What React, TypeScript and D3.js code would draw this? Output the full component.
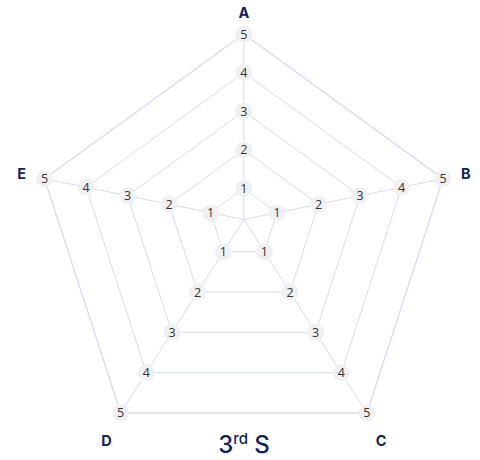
import React, { useRef, useEffect } from "react";
import * as d3 from "d3";

const axes = ["A", "B", "C", "D", "E"];
const levels = [1, 2, 3, 4, 5];
const titleMain = "3";
const titleSup = "rd";
const titleRest = " S";

const App: React.FC = () => {
  const svgRef = useRef<SVGSVGElement | null>(null);

  useEffect(() => {
    const width = 480;
    const height = 460;
    const cx = 243.8;
    const cy = 219.5;
    const maxR = 209.5;

    const svg = d3.select(svgRef.current);
    svg.selectAll("*").remove();
    svg.attr("width", width).attr("height", height);

    // radial scale + a small downward "lift" that gives the tilted look
    const rScale = d3.scaleLinear().domain([0.2, 5]).range([0, maxR]);
    const lift = d3.scaleLinear().domain([0.2, 5]).range([0, 24]);
    const angle = d3
      .scalePoint<string>()
      .domain(axes)
      .range([0, (2 * Math.PI * (axes.length - 1)) / axes.length]);

    const pos = (axis: string, v: number): [number, number] => {
      const a = angle(axis) as number;
      const r = rScale(v);
      return [cx + r * Math.sin(a), cy - r * Math.cos(a) + lift(v)];
    };

    const g = svg.append("g");
    const gridColor = "#d8dbee";

    // spokes
    g.selectAll("line.spoke")
      .data(axes)
      .join("line")
      .attr("class", "spoke")
      .attr("x1", pos(axes[0], 0.2)[0])
      .attr("y1", pos(axes[0], 0.2)[1])
      .attr("x2", (d) => pos(d, 5)[0])
      .attr("y2", (d) => pos(d, 5)[1])
      .attr("stroke", gridColor)
      .attr("stroke-width", 1);

    // level rings
    g.selectAll("path.ring")
      .data(levels)
      .join("path")
      .attr("class", "ring")
      .attr("d", (lv) =>
        d3
          .line<string>()
          .x((d) => pos(d, lv)[0])
          .y((d) => pos(d, lv)[1])
          .curve(d3.curveLinearClosed)(axes)
      )
      .attr("fill", "none")
      .attr("stroke", gridColor)
      .attr("stroke-width", (lv) => (lv === 5 ? 1.3 : 1));

    // value labels at every vertex
    const cells = levels.flatMap((lv) => axes.map((a) => ({ axis: a, level: lv })));
    const tick = g
      .selectAll("g.tick")
      .data(cells)
      .join("g")
      .attr("class", "tick")
      .attr("transform", (d) => `translate(${pos(d.axis, d.level)})`);

    tick.append("circle").attr("r", 8.5).attr("fill", "#f0f0f3");

    tick
      .append("text")
      .attr("text-anchor", "middle")
      .attr("dy", "0.36em")
      .attr("font-family", "'Open Sans', sans-serif")
      .attr("font-size", 12.5)
      .attr("fill", "#333333")
      .text((d) => d.level);

    // axis names
    g.selectAll("text.axis")
      .data(axes)
      .join("text")
      .attr("class", "axis")
      .attr("x", (d) => pos(d, 5.55)[0])
      .attr("y", (d) => pos(d, 5.55)[1] + (d === "C" || d === "D" ? 6 : 0))
      .attr("dy", "0.36em")
      .attr("text-anchor", "middle")
      .attr("font-family", "Inter, 'Noto Sans', sans-serif")
      .attr("font-weight", 700)
      .attr("font-size", 14.5)
      .attr("fill", "#13245a")
      .text((d) => d);

    // title
    const title = svg
      .append("text")
      .attr("x", 244)
      .attr("y", 453)
      .attr("text-anchor", "middle")
      .attr("font-family", "Inter, 'Noto Sans', sans-serif")
      .attr("font-weight", 500)
      .attr("font-size", 24)
      .attr("fill", "#13245a");
    title.append("tspan").text(titleMain);
    title.append("tspan").attr("font-size", 15).attr("dy", -9).text(titleSup);
    title.append("tspan").attr("dy", 9).text(titleRest);
  }, []);

  return (
    <svg
      ref={svgRef}
      style={{ position: "absolute", left: 0, top: 0, background: "#fff" }}
    />
  );
};

export default App;
